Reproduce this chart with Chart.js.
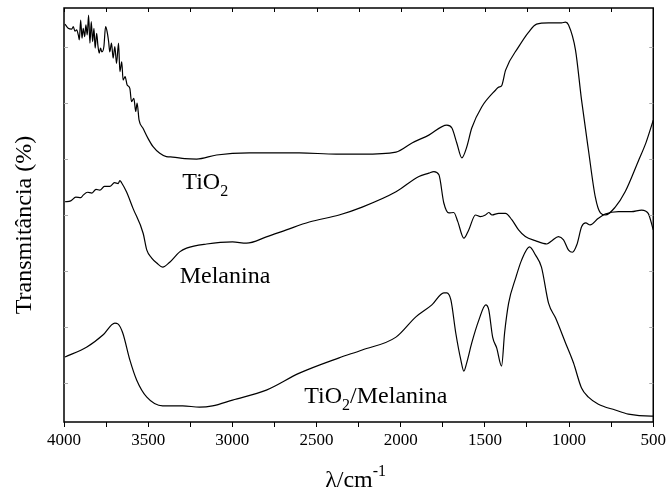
<!DOCTYPE html>
<html>
<head>
<meta charset="utf-8">
<script src="https://cdn.jsdelivr.net/npm/chart.js@4.4.1/dist/chart.umd.min.js"></script>
<style>
html, body { margin: 0; padding: 0; background: #fff; }
#wrap { width: 669px; height: 491px; }
</style>
</head>
<body>
<div id="wrap"><canvas id="c" width="669" height="491"></canvas></div>
<script>
// FTIR spectra, wavenumber (cm-1) vs transmittance (arbitrary offset units)
var tio2Wn = [3994, 3975, 3954, 3945, 3935, 3925, 3915, 3909, 3901, 3893, 3886, 3877, 3870, 3862, 3854, 3846,
    3838, 3830, 3822, 3815, 3806, 3799, 3791, 3783, 3775, 3763, 3753, 3744, 3735, 3728, 3718, 3708, 3698, 3688,
    3676, 3668, 3657, 3649, 3637, 3625, 3609, 3599, 3585, 3574, 3566, 3554, 3530, 3501, 3471, 3431, 3392, 3355,
    3283, 3212, 3094, 2899, 2602, 2383, 2229, 2028, 1933, 1833, 1726, 1696, 1667, 1637, 1608, 1578, 1519, 1436,
    1418, 1401, 1377, 1300, 1240, 1193, 1122, 1045, 1021, 1003, 962, 926, 885, 844, 814, 784, 726, 667, 589, 542, 500];
var tio2T = [96.1, 95.1, 94.9, 95.5, 94.4, 94.7, 93.5, 92.3, 97.1, 92.7, 95.1, 93.1, 95.9, 93.5, 98.3, 91.5,
    96.7, 91.9, 95.1, 90.3, 93.9, 91.1, 89.1, 90.3, 89.4, 90.7, 95.5, 94.3, 91.9, 89.4, 91.5, 87.9, 90.7, 86.6,
    91.5, 84.6, 87.0, 82.6, 83.4, 81.4, 80.6, 77.4, 78.2, 75.0, 77.0, 72.9, 70.9, 68.5, 66.5, 64.9, 64.1, 64.0,
    63.6, 63.5, 64.5, 65.0, 65.0, 64.7, 64.7, 65.2, 67.4, 69.3, 71.7, 71.0, 67.4, 63.8, 66.4, 71.0, 76.1, 80.2,
    80.9, 81.2, 85.0, 90.6, 94.2, 96.1, 96.4, 96.4, 96.6, 95.9, 89.9, 77.8, 65.7, 54.3, 50.5, 50.0, 51.9, 55.6, 63.0, 67.6, 72.9];

var melWn = [3994, 3960, 3930, 3900, 3886, 3860, 3834, 3810, 3787, 3760, 3728, 3700, 3678, 3668, 3658, 3629,
    3590, 3530, 3508, 3479, 3449, 3414, 3372, 3313, 3272, 3153, 2999, 2916, 2798, 2679, 2543, 2366, 2229, 2028,
    1892, 1833, 1803, 1773, 1744, 1714, 1685, 1661, 1625, 1596, 1556, 1527, 1497, 1477, 1458, 1418, 1378, 1339,
    1300, 1260, 1201, 1132, 1102, 1063, 1033, 1003, 980, 954, 925, 901, 875, 826, 786, 707, 630, 569, 530, 500];
var melT = [53.2, 53.4, 54.3, 54.2, 54.8, 55.5, 55.3, 56.2, 56.0, 56.9, 56.9, 57.8, 57.6, 58.3, 57.8, 55.6,
    51.6, 45.6, 41.5, 39.6, 38.4, 37.4, 38.6, 41.1, 42.0, 43.0, 43.5, 43.2, 44.7, 46.4, 48.3, 50.0, 51.9, 55.6,
    59.3, 60.1, 60.5, 59.7, 52.9, 50.5, 50.6, 48.4, 44.4, 46.4, 50.0, 49.6, 50.0, 50.6, 50.0, 50.4, 50.4, 48.8,
    46.4, 44.8, 43.8, 43.0, 43.8, 44.8, 44.0, 41.5, 41.0, 42.8, 47.2, 48.1, 47.6, 49.2, 50.2, 50.8, 50.8, 51.2, 50.4, 46.4];

var compWn = [3994, 3864, 3769, 3698, 3680, 3651, 3609, 3568, 3508, 3414, 3295, 3195, 3118, 2999, 2798, 2602,
    2366, 2229, 2028, 1910, 1815, 1744, 1726, 1702, 1673, 1643, 1625, 1608, 1578, 1536, 1495, 1477, 1454, 1430,
    1401, 1383, 1359, 1317, 1282, 1235, 1199, 1164, 1122, 1080, 1021, 974, 926, 885, 826, 726, 648, 512, 500];
var compT = [15.7, 18.1, 21.0, 23.9, 23.7, 21.5, 15.0, 10.1, 6.0, 3.9, 3.9, 3.6, 3.9, 5.3, 7.7, 11.8,
    15.5, 17.4, 20.5, 25.4, 28.3, 31.2, 31.2, 29.5, 21.5, 15.0, 12.3, 14.3, 19.1, 24.6, 28.3, 27.1, 20.5, 17.9,
    13.5, 21.5, 28.7, 34.8, 39.1, 42.3, 40.3, 37.4, 28.7, 25.1, 19.1, 14.3, 8.2, 6.0, 4.3, 2.9, 1.9, 1.4, 1.4];

var xTickStep = 250;
var yTickValues = [9.4, 22.9, 36.5, 50.0, 63.5, 77.1, 90.6];

// curve labels: [text, subscript, rest]
var labelParts = [["TiO", "2", ""], ["Melanina", "", ""], ["TiO", "2", "/Melanina"]];
var labelWn = [3297, 3313, 2573];
var labelT = [56.2, 33.6, 4.5];

function pairs(xs, ys) {
    return xs.map(function (x, i) { return {x: x, y: ys[i]}; });
}

function series(label, xs, ys) {
    return {
        label: label,
        data: pairs(xs, ys),
        borderColor: "#000",
        borderWidth: 1.2,
        pointRadius: 0,
        fill: false,
        cubicInterpolationMode: "monotone"
    };
}

var SERIF = "'Liberation Serif', 'Times New Roman', serif";

var frame = {
    id: "frame",
    afterDraw: function (chart) {
        var ctx = chart.ctx, a = chart.chartArea;
        var xs = chart.scales.x, ys = chart.scales.y;
        ctx.save();

        ctx.strokeStyle = "#000";
        ctx.lineWidth = 1.5;
        ctx.strokeRect(a.left, a.top, a.right - a.left, a.bottom - a.top);

        ctx.lineWidth = 1;
        xs.ticks.forEach(function (t) {
            var px = Math.round(xs.getPixelForValue(t.value)) + 0.5;
            ctx.beginPath();
            ctx.moveTo(px, a.top);
            ctx.lineTo(px, a.top + 4);
            ctx.stroke();
        });
        ctx.strokeStyle = "#aaa";
        ys.ticks.forEach(function (t) {
            var py = Math.round(ys.getPixelForValue(t.value)) + 0.5;
            ctx.beginPath();
            ctx.moveTo(a.left, py);
            ctx.lineTo(a.left + 4, py);
            ctx.moveTo(a.right - 4, py);
            ctx.lineTo(a.right, py);
            ctx.stroke();
        });

        ctx.fillStyle = "#000";
        ctx.textBaseline = "alphabetic";
        ctx.textAlign = "left";
        labelParts.forEach(function (p, i) {
            var x = xs.getPixelForValue(labelWn[i]);
            var y = ys.getPixelForValue(labelT[i]);
            ctx.font = "24px " + SERIF;
            ctx.fillText(p[0], x, y);
            x += ctx.measureText(p[0]).width;
            if (p[1]) {
                ctx.font = "16px " + SERIF;
                ctx.fillText(p[1], x, y + 7);
                x += ctx.measureText(p[1]).width;
            }
            if (p[2]) {
                ctx.font = "24px " + SERIF;
                ctx.fillText(p[2], x, y);
            }
        });

        // x title with superscript
        ctx.font = "24px " + SERIF;
        var main = "\u03bb/cm", w1 = ctx.measureText(main).width;
        ctx.font = "16px " + SERIF;
        var sup = "-1", w2 = ctx.measureText(sup).width;
        var cx = (a.left + a.right) / 2 - 3;
        var x0 = cx - (w1 + w2) / 2;
        var base = chart.height - 4;
        ctx.font = "24px " + SERIF;
        ctx.fillText(main, x0, base);
        ctx.font = "16px " + SERIF;
        ctx.fillText(sup, x0 + w1, base - 11);

        // y title
        ctx.save();
        ctx.translate(31, (a.top + a.bottom) / 2 + 10);
        ctx.rotate(-Math.PI / 2);
        ctx.textAlign = "center";
        ctx.font = "24px " + SERIF;
        ctx.fillText("Transmit\u00e2ncia (%)", 0, 0);
        ctx.restore();

        ctx.restore();
    }
};

new Chart(document.getElementById("c"), {
    type: "line",
    data: {
        datasets: [
            series("TiO2", tio2Wn, tio2T),
            series("Melanina", melWn, melT),
            series("TiO2/Melanina", compWn, compT)
        ]
    },
    options: {
        responsive: false,
        animation: false,
        devicePixelRatio: 1,
        layout: { padding: { top: 8, right: 14, left: 0, bottom: 0 } },
        plugins: { legend: { display: false }, tooltip: { enabled: false } },
        scales: {
            x: {
                type: "linear",
                reverse: true,
                min: 500,
                max: 4000,
                afterFit: function (s) { s.height = 69; },
                border: { display: false },
                grid: { drawOnChartArea: false, drawTicks: true, tickLength: 5, color: "#000", lineWidth: 1 },
                ticks: {
                    stepSize: xTickStep,
                    autoSkip: false,
                    maxRotation: 0,
                    padding: 3,
                    color: "#000",
                    font: { family: SERIF, size: 17 },
                    callback: function (v) { return v % 500 === 0 ? String(v) : ""; }
                }
            },
            y: {
                min: 0,
                max: 100,
                afterFit: function (s) { s.width = 64; },
                afterBuildTicks: function (s) {
                    s.ticks = yTickValues.map(function (v) { return {value: v}; });
                },
                border: { display: false },
                grid: { display: false },
                ticks: { display: false }
            }
        }
    },
    plugins: [frame]
});
</script>
</body>
</html>
